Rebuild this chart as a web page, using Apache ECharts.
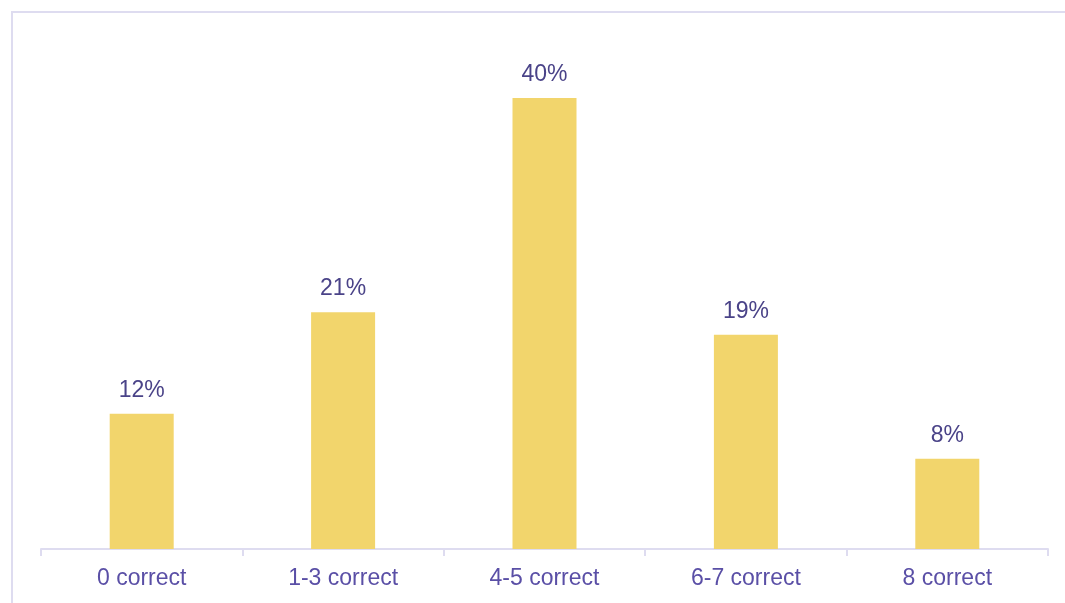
<!DOCTYPE html>
<html>
<head>
<meta charset="utf-8">
<script src="https://cdn.jsdelivr.net/npm/echarts@6/dist/echarts.min.js"></script>
<style>
  html, body { margin: 0; padding: 0; background: #fff; }
  #frame { position: absolute; left: 11px; top: 11px; right: 0; bottom: 0;
           border-top: 2px solid #dedcf0; border-left: 2px solid #dedcf0; }
  #chart { position: absolute; left: 0; top: 0; width: 1065px; height: 603px; }
</style>
</head>
<body>
<div id="frame"></div>
<div id="chart"></div>
<script>
const categories = ['0 correct', '1-3 correct', '4-5 correct', '6-7 correct', '8 correct'];
const shares = [12, 21, 40, 19, 8];

const chart = echarts.init(document.getElementById('chart'), null, { renderer: 'canvas' });
const option = {
  animation: false,
  grid: { left: 41, right: 17, top: 98, bottom: 54 },
  xAxis: {
    type: 'category',
    data: categories,
    axisLine: { show: true, lineStyle: { color: '#dedcf0', width: 2 } },
    axisTick: { show: true, length: 7, lineStyle: { color: '#dedcf0', width: 2 } },
    axisLabel: { color: '#5a4fa6', fontSize: 23, fontFamily: 'Liberation Sans, Arial, sans-serif', margin: 18 }
  },
  yAxis: {
    type: 'value',
    min: 0,
    max: 40,
    show: false,
    splitLine: { show: false }
  },
  series: [
    {
      type: 'bar',
      data: shares,
      barWidth: 64,
      itemStyle: { color: '#f2d56c' },
      label: {
        show: true,
        position: 'top',
        distance: 12,
        formatter: '{c}%',
        color: '#4a4388',
        fontSize: 23,
        fontFamily: 'Liberation Sans, Arial, sans-serif'
      }
    }
  ]
};
chart.setOption(option);
</script>
</body>
</html>
